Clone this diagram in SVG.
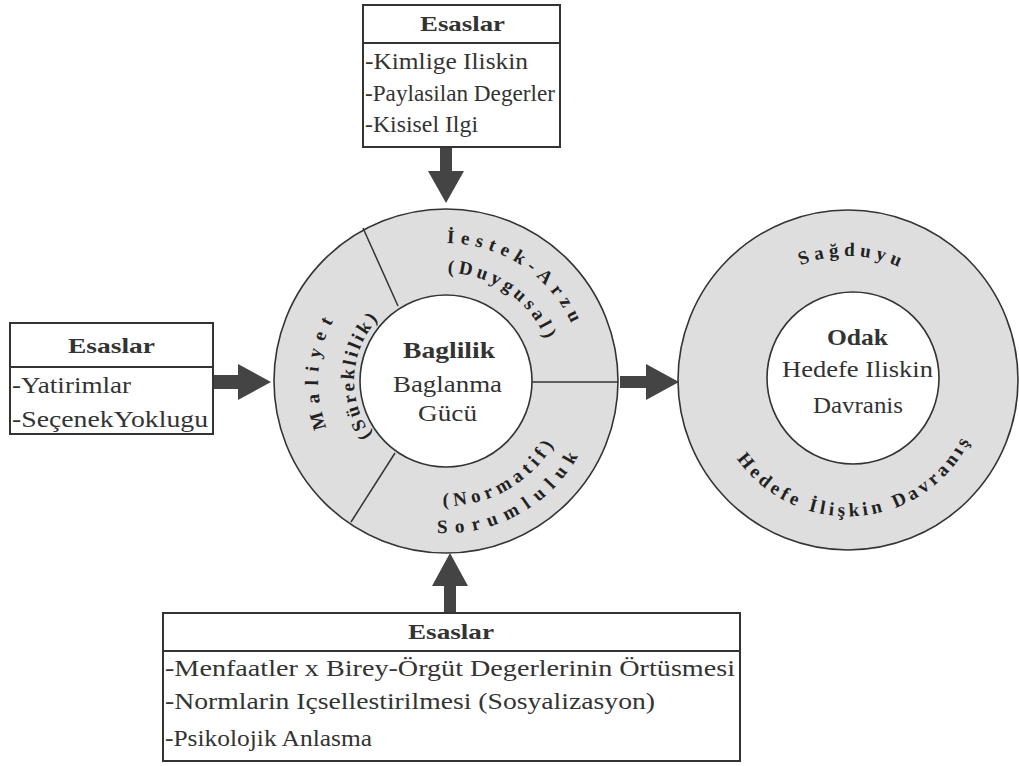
<svg xmlns="http://www.w3.org/2000/svg" width="1019" height="766" viewBox="0 0 1019 766">
  <style>
    .box { fill: #fff; stroke: #333; stroke-width: 2; }
    .sep { stroke: #333; stroke-width: 2; }
    .ring { fill: #dedede; stroke: #333; stroke-width: 1.6; }
    .core { fill: #fff; stroke: #333; stroke-width: 1.6; }
    .div { stroke: #333; stroke-width: 1.5; }
    .arrow { fill: #444; }
    .t { font-family: "Liberation Serif", "DejaVu Serif", serif; fill: #333; }
    .h { font-weight: bold; font-size: 22px; }
    .item { font-size: 23px; }
    .mid { font-size: 24px; }
    .arc { font-family: "Liberation Serif", "DejaVu Serif", serif; font-weight: bold; font-size: 19px; fill: #222; text-anchor: middle; }
  </style>
  <defs>
    <!-- baselines for the curved ring labels -->
    <path id="pIstek" d="M365.0,269.4 A138,138 0 0 1 579.9,414.4"/>
    <path id="pDuyg" d="M384.1,292.5 A108,108 0 0 1 550.3,409.0"/>
    <path id="pMal" d="M391.9,497.0 A128,128 0 0 1 412.9,257.4"/>
    <path id="pSur" d="M408.6,465.0 A92,92 0 0 1 420.6,292.6"/>
    <path id="pSor" d="M348.3,497.4 A152,152 0 0 0 595.7,354.6"/>
    <path id="pNorm" d="M365.7,476.8 A125,125 0 0 0 569.1,359.3"/>
    <path id="pSag" d="M733,333.6 A124,124 0 0 1 965.9,341.7"/>
    <path id="pHed" d="M714,403.6 A136,136 0 0 0 984,380"/>
  </defs>

  <!-- connectors -->
  <g id="connectors">
    <polygon class="arrow" points="440,148 452,148 452,171 464,171 446,203 428,171 440,171"/>
    <polygon class="arrow" points="213,375 238,375 238,364 271,382 238,400 238,389 213,389"/>
    <polygon class="arrow" points="620,376 646,376 646,364 679,382 646,400 646,388 620,388"/>
    <polygon class="arrow" points="444,613 456,613 456,586 468,586 450,553 432,586 444,586"/>
  </g>

  <!-- top source box -->
  <g id="box-top">
    <rect class="box" x="363" y="5" width="197" height="142"/>
    <line class="sep" x1="363" y1="43" x2="560" y2="43"/>
    <text class="t h" x="420" y="31" textLength="85" lengthAdjust="spacingAndGlyphs">Esaslar</text>
    <text class="t item" x="365" y="69" textLength="163" lengthAdjust="spacingAndGlyphs">-Kimlige Iliskin</text>
    <text class="t item" x="365" y="101" textLength="190" lengthAdjust="spacingAndGlyphs">-Paylasilan Degerler</text>
    <text class="t item" x="365" y="132" textLength="113" lengthAdjust="spacingAndGlyphs">-Kisisel Ilgi</text>
  </g>

  <!-- left source box -->
  <g id="box-left">
    <rect class="box" x="10" y="323" width="203" height="111"/>
    <line class="sep" x1="10" y1="367" x2="213" y2="367"/>
    <text class="t h" x="68" y="353" textLength="87" lengthAdjust="spacingAndGlyphs">Esaslar</text>
    <text class="t item" x="12" y="393" textLength="119" lengthAdjust="spacingAndGlyphs">-Yatirimlar</text>
    <text class="t item" x="12" y="427" textLength="196" lengthAdjust="spacingAndGlyphs">-SeçenekYoklugu</text>
  </g>

  <!-- bottom source box -->
  <g id="box-bottom">
    <rect class="box" x="163" y="613" width="577" height="148"/>
    <line class="sep" x1="163" y1="651" x2="740" y2="651"/>
    <text class="t h" x="408" y="639" textLength="86" lengthAdjust="spacingAndGlyphs">Esaslar</text>
    <text class="t item" x="165" y="676" textLength="570" lengthAdjust="spacingAndGlyphs">-Menfaatler x Birey-Örgüt Degerlerinin Örtüsmesi</text>
    <text class="t item" x="165" y="709" textLength="490" lengthAdjust="spacingAndGlyphs">-Normlarin Içsellestirilmesi (Sosyalizasyon)</text>
    <text class="t item" x="165" y="746" textLength="207" lengthAdjust="spacingAndGlyphs">-Psikolojik Anlasma</text>
  </g>

  <!-- commitment circle -->
  <g id="node-baglilik">
    <circle class="ring" cx="446" cy="381" r="172"/>
    <line class="div" x1="363" y1="228" x2="398" y2="306"/>
    <line class="div" x1="351" y1="522" x2="395" y2="453"/>
    <line class="div" x1="532" y1="382" x2="618" y2="382"/>
    <circle class="core" cx="446" cy="381" r="86"/>
    <text class="t mid" x="403" y="358" font-weight="bold" textLength="92" lengthAdjust="spacingAndGlyphs">Baglilik</text>
    <text class="t mid" x="393" y="392" textLength="109" lengthAdjust="spacingAndGlyphs">Baglanma</text>
    <text class="t mid" x="418" y="421" textLength="59" lengthAdjust="spacingAndGlyphs">Gücü</text>
    <text class="arc" letter-spacing="6"><textPath href="#pIstek" startOffset="50%">İestek-Arzu</textPath></text>
    <text class="arc" letter-spacing="4"><textPath href="#pDuyg" startOffset="50%">(Duygusal)</textPath></text>
    <text class="arc" letter-spacing="8"><textPath href="#pMal" startOffset="50%">Maliyet</textPath></text>
    <text class="arc" letter-spacing="3"><textPath href="#pSur" startOffset="50%">(Süreklilik)</textPath></text>
    <text class="arc" letter-spacing="8"><textPath href="#pSor" startOffset="50%">Sorumluluk</textPath></text>
    <text class="arc" letter-spacing="5"><textPath href="#pNorm" startOffset="50%">(Normatif)</textPath></text>
  </g>

  <!-- focus circle -->
  <g id="node-odak">
    <circle class="ring" cx="848" cy="380" r="170"/>
    <circle class="core" cx="853" cy="378" r="86"/>
    <text class="t mid" x="827" y="345" font-weight="bold" textLength="61" lengthAdjust="spacingAndGlyphs">Odak</text>
    <text class="t mid" x="782" y="377" textLength="151" lengthAdjust="spacingAndGlyphs">Hedefe Iliskin</text>
    <text class="t mid" x="813" y="413" textLength="90" lengthAdjust="spacingAndGlyphs">Davranis</text>
    <text class="arc" letter-spacing="5"><textPath href="#pSag" startOffset="50%">Sağduyu</textPath></text>
    <text class="arc" letter-spacing="4"><textPath href="#pHed" startOffset="50%">Hedefe İlişkin Davranış</textPath></text>
  </g>
</svg>
